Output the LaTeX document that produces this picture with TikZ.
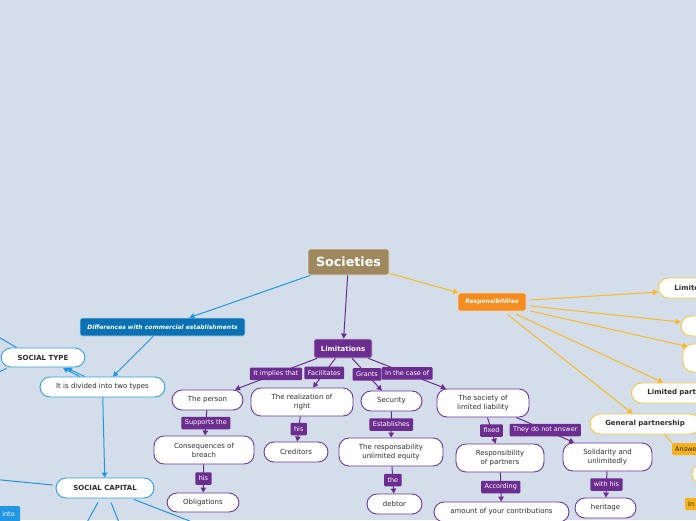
\documentclass[tikz,border=0pt]{standalone}
\usepackage{fontspec}
\setmainfont{DejaVu Sans}
\usetikzlibrary{arrows.meta,calc}
\definecolor{bgc}{RGB}{211,222,234}
\definecolor{plabc}{RGB}{107,45,143}
\definecolor{pbord}{RGB}{112,52,158}
\definecolor{pline}{RGB}{107,45,143}
\definecolor{bline}{RGB}{33,150,226}
\definecolor{bbord}{RGB}{45,160,228}
\definecolor{difc}{RGB}{10,114,180}
\definecolor{oline}{RGB}{250,185,35}
\definecolor{obord}{RGB}{250,198,60}
\definecolor{respc}{RGB}{245,140,32}
\definecolor{socc}{RGB}{160,136,94}
\definecolor{ansc}{RGB}{246,178,26}
\definecolor{txtc}{RGB}{45,45,45}
\newcommand\myfs[1]{\fontsize{#1}{9}\selectfont}
\tikzset{
  pnode/.style={draw=pbord, fill=white, rounded corners=10pt, line width=0.9pt,
    font=\myfs{7}, text=txtc, align=center, inner sep=1pt},
  bnode/.style={pnode, draw=bbord},
  onode/.style={pnode, draw=obord},
  plab/.style={fill=plabc, text=white, font=\myfs{6.5}, inner xsep=3.5pt,
    inner ysep=0pt, minimum height=12.5pt, rounded corners=1pt},
  parrow/.style={draw=pline, line width=1pt, -{Triangle[length=5pt,width=5.5pt]}},
  barrow/.style={draw=bline, line width=1pt, -{Triangle[length=5pt,width=5.5pt]}},
  bplain/.style={draw=bline, line width=1pt},
  oarrow/.style={draw=oline, line width=1pt, -{Triangle[length=5pt,width=5.5pt]}},
  oplain/.style={draw=oline, line width=1pt},
}
\begin{document}
\begin{tikzpicture}[x=1pt,y=-1pt]
\useasboundingbox (0,0) rectangle (696,520);
\clip (0,0) rectangle (696,520);
\fill[bgc] (0,0) rectangle (696,520);

% central
\node[fill=socc, draw=white!75!socc, line width=0.8pt, rounded corners=2pt, minimum width=81pt,
  minimum height=26pt, text=white, font=\myfs{12.7}\bfseries, inner sep=0pt] (soc) at (348.5,262) {Societies};
\node[fill=difc, draw=white!70!difc, line width=0.8pt, rounded corners=2pt, minimum width=165pt,
  minimum height=18pt, text=white, font=\myfs{6}\bfseries\itshape, inner sep=0pt] (diff) at (162.5,327) {Differences with commercial establishments};
\node[fill=plabc, draw=white!70!plabc, line width=0.8pt, rounded corners=2pt, minimum width=58pt,
  minimum height=19pt, text=white, font=\myfs{7}\bfseries, inner sep=0pt] (lim) at (343,348.5) {Limitations};
\node[fill=respc, draw=white!70!respc, line width=0.8pt, rounded corners=2pt, minimum width=68pt,
  minimum height=18pt, text=white, font=\myfs{6}\bfseries\itshape, inner sep=0pt] (resp) at (492,302) {Responsibilities};

% blue branch
\node[bnode, font=\myfs{7}\bfseries, minimum width=84pt, minimum height=19pt] (st) at (43,357.5) {SOCIAL TYPE};
\node[bnode, minimum width=125pt, minimum height=20pt] (div) at (102.5,387) {It is divided into two types};
\node[bnode, font=\myfs{7}\bfseries, minimum width=98pt, minimum height=20pt] (sc) at (105,488) {SOCIAL CAPITAL};
\node[fill=bline, text=white, font=\myfs{6.5}, minimum width=23pt, minimum height=16pt, inner sep=0pt,
  rounded corners=1pt] (into) at (8.5,514) {into};

\coordinate (stA) at (-40,314.5);
\coordinate (stB) at (-28,384);
\coordinate (scA) at (-60,474);
\coordinate (scB) at (80,535);
\coordinate (scC) at (124,535);
\coordinate (scD) at (200,525);

% purple branch
\node[pnode, minimum width=71pt, minimum height=20pt] (person) at (207.5,400) {The person};
\node[pnode, minimum width=102pt, minimum height=28pt] (real) at (302,402) {The realization of\\right};
\node[pnode, minimum width=61pt, minimum height=20pt] (sec) at (391.5,401) {Security};
\node[pnode, minimum width=92pt, minimum height=28pt] (sll) at (483,403) {The society of\\limited liability};
\node[pnode, minimum width=100pt, minimum height=28pt] (cons) at (204,450) {Consequences of\\breach};
\node[pnode, minimum width=64pt, minimum height=20pt] (cred) at (296,452) {Creditors};
\node[pnode, minimum width=104pt, minimum height=28pt] (rue) at (391,452) {The responsability\\unlimited equity};
\node[pnode, minimum width=72pt, minimum height=19pt] (obl) at (203,502.5) {Obligations};
\node[pnode, minimum width=55pt, minimum height=20pt] (debt) at (394.5,504) {debtor};
\node[pnode, minimum width=88pt, minimum height=28pt] (rop) at (500,458) {Responsibility\\of partners};
\node[pnode, minimum width=89pt, minimum height=28pt] (sol) at (607.5,457) {Solidarity and\\unlimitedly};
\node[pnode, minimum width=135pt, minimum height=20pt] (amt) at (501.5,512) {amount of your contributions};
\node[pnode, minimum width=61pt, minimum height=20pt] (her) at (605.5,508) {heritage};

% orange branch
\node[onode, font=\myfs{7}\bfseries, anchor=west, inner xsep=16pt, text width=70pt, align=left,
  minimum height=20pt] (lp1) at (658,288) {Limited};
\node[onode, minimum width=79pt, minimum height=20pt] (e2) at (720.5,326) {};
\node[onode, minimum width=77pt, minimum height=28pt] (e3) at (721.5,358) {};
\node[onode, font=\myfs{7}\bfseries, anchor=west, inner xsep=16pt, text width=97pt, align=left,
  minimum height=20pt] (lp2) at (631,393) {Limited partnership};
\node[onode, font=\myfs{7}\bfseries, minimum width=110pt, minimum height=20pt] (gp) at (645,424) {General partnership};
\node[fill=ansc, text=txtc, font=\myfs{6.5}, anchor=west, inner xsep=3pt, inner ysep=0pt,
  text width=42pt, align=left, minimum height=12pt, rounded corners=1pt] (ans) at (672,449) {Answer};
\node[onode, minimum width=68pt, minimum height=19pt, rounded corners=9pt] (e4) at (726,474) {};
\node[fill=ansc, text=txtc, font=\myfs{6.5}, anchor=west, inner xsep=3pt, inner ysep=0pt,
  text width=30pt, align=left, minimum height=12pt, rounded corners=1pt] (inl) at (685,504) {In};

% blue connectors
\draw[barrow] (soc) -- (diff);
\draw[barrow] (diff) -- (div);
\draw[barrow] (div) -- (sc);
\draw[barrow] ($(div.north west)+(40,0)$) -- ($(st.south)+(20,0.5)$);
\draw[barrow] ($(div.north west)+(45,0)$) -- ($(st.south)+(24,0.5)$);
\draw[bplain] ($(st.north west)+(16,0)$) -- (stA);
\draw[bplain] ($(st.south west)+(6,1)$) -- (stB);
\draw[bplain] ($(sc.west)+(-3,-3)$) -- (scA);
\draw[bplain] ($(sc.south)+(-7,4)$) -- (scB);
\draw[bplain] ($(sc.south)+(6,4)$) -- (scC);
\draw[bplain] ($(sc.south)+(29,1)$) -- (scD);

% purple connectors
\draw[parrow] (soc) -- (lim);
\draw[parrow] (lim) -- node[plab] {It implies that} (person);
\draw[parrow] (lim) -- node[plab] {Facilitates} (real);
\draw[parrow] (lim) -- node[plab] {Grants} (sec);
\draw[parrow] (lim) -- node[plab] {In the case of} (sll);
\draw[parrow] (person) -- node[plab] {Supports the} (cons);
\draw[parrow] (real) -- node[plab] {his} (cred);
\draw[parrow] (sec) -- node[plab] {Establishes} (rue);
\draw[parrow] (cons) -- node[plab] {his} (obl);
\draw[parrow] (rue) -- node[plab] {the} (debt);
\draw[parrow] (sll) -- node[plab] {fixed} (rop);
\draw[parrow] (sll) -- node[plab] {They do not answer} (sol);
\draw[parrow] (rop) -- node[plab] {According} (amt);
\draw[parrow] (sol) -- node[plab] {with his} (her);

% orange connectors
\draw[oarrow] (soc) -- (resp);
\draw[oarrow] ($(resp.east)+(4,-2)$) -- ($(lp1.west)+(0,4)$);
\draw[oarrow] ($(resp.east)+(4,4)$) -- ($(e2.west)+(0,-4)$);
\draw[oarrow] ($(resp.east)+(4,9)$) -- ($(e3.north west)+(5,3)$);
\draw[oarrow] ($(resp.south east)+(-10,3)$) -- ($(lp2.north west)+(32,0)$);
\draw[oarrow] ($(resp.south east)+(-19,3)$) -- ($(gp.north west)+(43,0)$);
\draw[oplain] ($(gp.south west)+(75,0)$) -- (ans.north west);
\end{tikzpicture}
\end{document}
